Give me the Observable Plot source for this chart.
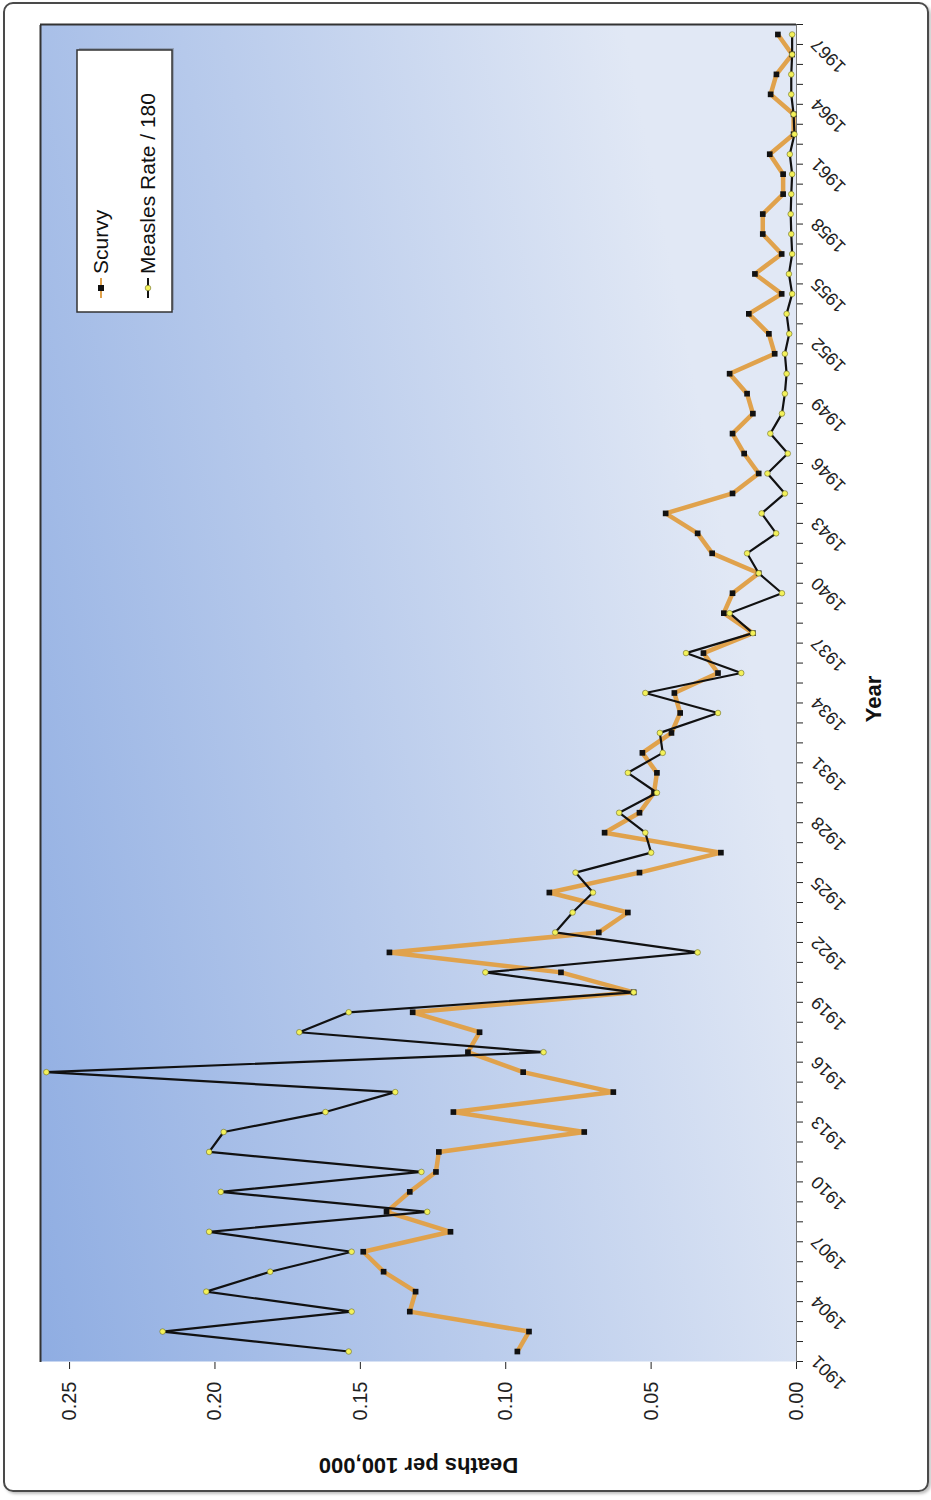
<!DOCTYPE html>
<html><head><meta charset="utf-8">
<script src="https://cdn.jsdelivr.net/npm/d3@7"></script>
<script src="https://cdn.jsdelivr.net/npm/@observablehq/plot@0.6"></script>
<style>
html,body{margin:0;padding:0;background:#fff;}
#page{position:relative;width:931px;height:1500px;overflow:hidden;background:#fff;}
#frame{position:absolute;left:3px;top:2px;width:922px;height:1486px;border:2px solid #4a4a4a;border-radius:10px;box-shadow:2px 2px 3px rgba(0,0,0,0.25);}
#chart{position:absolute;left:0;top:0;width:1500px;height:931px;transform-origin:0 0;transform:translate(0px,1500px) rotate(-90deg);}
</style></head><body>
<div id="page"><div id="frame"></div><div id="chart"></div></div>
<script>
const years = [1901,1902,1903,1904,1905,1906,1907,1908,1909,1910,1911,1912,1913,1914,1915,1916,1917,1918,1919,1920,
  1921,1922,1923,1924,1925,1926,1927,1928,1929,1930,1931,1932,1933,1934,1935,1936,1937,1938,1939,1940,
  1941,1942,1943,1944,1945,1946,1947,1948,1949,1950,1951,1952,1953,1954,1955,1956,1957,1958,1959,1960,
  1961,1962,1963,1964,1965,1966,1967];
const scurvy = [0.096,0.092,0.133,0.131,0.142,0.149,0.119,0.141,0.133,0.124,0.123,0.073,0.118,0.063,0.094,0.113,0.109,0.132,0.056,0.081,
  0.140,0.068,0.058,0.085,0.054,0.026,0.066,0.054,0.049,0.048,0.053,0.043,0.040,0.042,0.027,0.032,0.015,0.025,0.022,0.013,
  0.029,0.034,0.045,0.022,0.013,0.018,0.022,0.015,0.017,0.023,0.0075,0.0095,0.0164,0.0051,0.0143,0.0051,0.0116,0.0116,0.0046,0.0046,
  0.0092,0.001,0.001,0.0089,0.0069,0.0015,0.0064];
const measles = [0.154,0.218,0.153,0.203,0.181,0.153,0.202,0.127,0.198,0.129,0.202,0.197,0.162,0.138,0.258,0.087,0.171,0.154,0.056,0.107,
  0.034,0.083,0.077,0.070,0.076,0.050,0.052,0.061,0.048,0.058,0.046,0.047,0.027,0.052,0.019,0.038,0.015,0.023,0.005,0.013,
  0.017,0.007,0.012,0.004,0.010,0.003,0.009,0.005,0.004,0.0034,0.004,0.0025,0.0034,0.0015,0.0026,0.0015,0.0018,0.002,0.0018,0.0015,
  0.0023,0.0007,0.001,0.0018,0.0018,0.0015,0.0015];
const yearLabels = [1901,1904,1907,1910,1913,1916,1919,1922,1925,1928,1931,1934,1937,1940,1943,1946,1949,1952,1955,1958,1961,1964,1967];
const valueTicks = [0, 0.05, 0.10, 0.15, 0.20, 0.25];
const seriesNames = ["Scurvy", "Measles Rate / 180"];
const xTitle = "Year";
const yTitle = "Deaths per 100,000";

const scurvyColor = "#e0a24c";
const measlesColor = "#111111";
const font = "'Liberation Sans', Arial, sans-serif";

const scurvyData = years.map((year, i) => ({year, value: scurvy[i]}));
const measlesData = years.map((year, i) => ({year, value: measles[i]}));
const xDomain = [years[0] - 0.5, years[years.length - 1] + 0.5];
const yDomain = [0, 0.26];
const boundaries = years.map(y => y - 0.5).concat([years[years.length - 1] + 0.5]);

const chart = Plot.plot({
  width: 1500, height: 931,
  marginLeft: 138, marginRight: 25, marginTop: 40, marginBottom: 135,
  style: {fontFamily: font, fontSize: "20px", color: "#222", background: "transparent", overflow: "visible"},
  x: {domain: xDomain, ticks: boundaries, tickSize: 7, tickFormat: () => "", label: null},
  y: {domain: yDomain, ticks: valueTicks, tickFormat: d3.format(".2f"), tickSize: 7, tickPadding: 13, label: null},
  marks: [
    Plot.frame({fill: "url(#plotbg)", stroke: "none"}),
    Plot.ruleY([yDomain[1]], {stroke: "#333", strokeWidth: 2}),
    Plot.ruleX([xDomain[1]], {stroke: "#333", strokeWidth: 2}),
    Plot.ruleY([0], {stroke: "#777", strokeWidth: 1}),
    Plot.line(scurvyData, {x: "year", y: "value", stroke: scurvyColor, strokeWidth: 4.5, strokeLinejoin: "round"}),
    Plot.line(measlesData, {x: "year", y: "value", stroke: measlesColor, strokeWidth: 2.2, strokeLinejoin: "round"}),
    Plot.dot(scurvyData, {x: "year", y: "value", symbol: "square", r: 3.2, fill: "#111", stroke: "none"}),
    Plot.dot(measlesData, {x: "year", y: "value", r: 2.8, fill: "#f3f15a", stroke: "#6b6b2a", strokeWidth: 0.6}),
    Plot.text(yearLabels, {x: d => d, text: d => String(d), frameAnchor: "bottom", dy: 22, dx: -3, rotate: -45, textAnchor: "end", fontSize: 18, fill: "#222"}),
    Plot.text([xTitle], {text: d => d, frameAnchor: "bottom", dy: 84, dx: -6, textAnchor: "middle", fontWeight: "bold", fontSize: 22, fill: "#111"}),
    Plot.text([yTitle], {text: d => d, frameAnchor: "left", dx: -104, rotate: -90, textAnchor: "middle", fontWeight: "bold", fontSize: 22, fill: "#111"})
  ]
});

const svg = d3.select(chart);
const defs = svg.insert("defs", ":first-child");
const grad = defs.append("linearGradient").attr("id", "plotbg")
  .attr("x1", 0).attr("y1", 0).attr("x2", 0.35).attr("y2", 1);
grad.append("stop").attr("offset", 0).attr("stop-color", "#8fade2");
grad.append("stop").attr("offset", 1).attr("stop-color", "#e1e8f5");

// legend
const lg = svg.append("g").attr("font-family", font).attr("font-size", 21).attr("fill", "#111").attr("text-anchor", "start");
lg.append("rect").attr("x", 1190).attr("y", 79).attr("width", 262).attr("height", 95).attr("fill", "#555").attr("opacity", 0.35);
lg.append("rect").attr("x", 1188).attr("y", 77).attr("width", 262).attr("height", 95)
  .attr("fill", "#fff").attr("stroke", "#333").attr("stroke-width", 1.5);
const entries = [
  {name: seriesNames[0], y: 101, stroke: scurvyColor, marker: "square"},
  {name: seriesNames[1], y: 148, stroke: measlesColor, marker: "circle"}
];
for (const e of entries) {
  lg.append("line").attr("x1", 1202).attr("x2", 1222).attr("y1", e.y).attr("y2", e.y)
    .attr("stroke", e.stroke).attr("stroke-width", 2);
  if (e.marker === "square") {
    lg.append("rect").attr("x", 1209).attr("y", e.y - 3).attr("width", 6).attr("height", 6).attr("fill", "#111");
  } else {
    lg.append("circle").attr("cx", 1212).attr("cy", e.y).attr("r", 2.8).attr("fill", "#f3f15a").attr("stroke", "#6b6b2a").attr("stroke-width", 0.6);
  }
  lg.append("text").attr("x", 1226).attr("y", e.y).attr("dy", "0.35em").attr("text-anchor", "start").text(e.name);
}

document.getElementById("chart").appendChild(chart);
</script>
</body></html>
